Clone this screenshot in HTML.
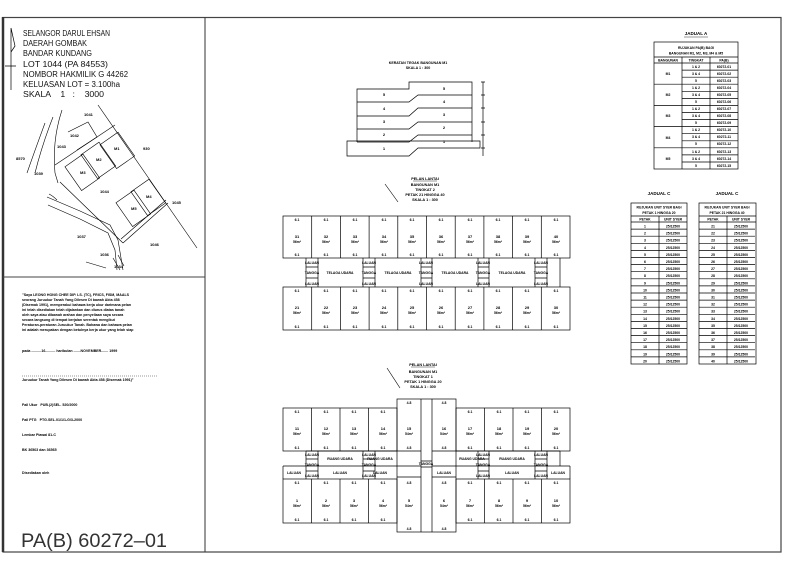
<!DOCTYPE html>
<html><head><meta charset="utf-8"><style>
html,body{margin:0;padding:0;background:#fff;}
svg{display:block;font-family:"Liberation Sans",sans-serif;}
.t{font-size:4px;font-weight:bold;fill:#000;text-anchor:middle}
.s{font-size:3.4px;fill:#000;text-anchor:middle;font-weight:bold}
.l{font-size:3.8px;fill:#000;font-weight:bold}
</style></head><body>
<svg width="800" height="565" viewBox="0 0 800 565" xmlns="http://www.w3.org/2000/svg">
<g fill="none" stroke="#000" stroke-width="0.7">
<rect x="3" y="17.5" width="778" height="534.5" stroke="#444" stroke-width="1.2"/>
<line x1="3" y1="17" x2="3" y2="552" stroke="#333" stroke-width="2.5"/>
<line x1="205" y1="17.5" x2="205" y2="552" stroke="#333" stroke-width="1"/>
<line x1="3" y1="277" x2="205" y2="277" stroke="#444" stroke-width="1"/>
<path d="M11 28 L11 90 M11 28 L15 46 L11 52 M5 66 L16 66"/>
</g>
<g style="font-size:8px;fill:#111" lengthAdjust="spacingAndGlyphs">
<text x="23" y="36" textLength="87" lengthAdjust="spacingAndGlyphs">SELANGOR DARUL EHSAN</text>
<text x="23" y="46" textLength="64" lengthAdjust="spacingAndGlyphs">DAERAH GOMBAK</text>
<text x="23" y="56" textLength="69" lengthAdjust="spacingAndGlyphs">BANDAR KUNDANG</text>
<text x="23" y="67" textLength="85" lengthAdjust="spacingAndGlyphs">LOT 1044 (PA 84553)</text>
<text x="23" y="77" textLength="105" lengthAdjust="spacingAndGlyphs">NOMBOR HAKMILIK G 44262</text>
<text x="23" y="87" textLength="97" lengthAdjust="spacingAndGlyphs">KELUASAN LOT = 3.100ha</text>
<text x="23" y="97" textLength="81" lengthAdjust="spacingAndGlyphs">SKALA &#160;&#160; 1 &#160; : &#160;&#160; 3000</text>
</g>
<g fill="none" stroke="#000" stroke-width="0.6">
<line x1="98" y1="105" x2="197" y2="248"/>
<line x1="115" y1="125" x2="55" y2="165"/>
<path d="M68 132 L88 122 L97 137 L77 150"/>
<path d="M62 110 Q52 140 55 173 L58 183"/>
<line x1="60" y1="182" x2="123" y2="243"/>
<path d="M47 197 L80 211 L110 225 L118 240 L123 270"/>
<path d="M48 205 L80 219 L108 233 L115 250 L117 270"/>
<path d="M53 117 Q42 145 35 173"/>
<path d="M45 123 Q35 150 27 173"/>
<path d="M123 243 L168 203 M121 239 L166 200"/>
<path d="M113 258 L120 270 M118 255 L124 266 M86 262 L106 268"/>
<path d="M49 194 Q53 196 57 200"/>
<g transform="rotate(-35 117 150)"><rect x="106" y="136" width="22" height="29"/></g>
<g transform="rotate(-35 98 160)"><rect x="87" y="146" width="22" height="29"/></g>
<g transform="rotate(-35 82 172)"><rect x="71" y="158" width="22" height="29"/></g>
<g transform="rotate(-35 148 197)"><rect x="137" y="183" width="22" height="29"/></g>
<g transform="rotate(-35 133 208)"><rect x="122" y="194" width="22" height="29"/></g>
</g>
<g class="l" style="font-size:4px">
<text x="84" y="116">1041</text><text x="70" y="137">1042</text><text x="57" y="148">1043</text>
<text x="114" y="150">M1</text><text x="96" y="161">M2</text><text x="80" y="174">M3</text>
<text x="146" y="198">M4</text><text x="131" y="210">M5</text>
<text x="143" y="150">930</text><text x="16" y="160">8570</text><text x="34" y="175">1039</text>
<text x="100" y="193">1044</text><text x="172" y="204">1045</text><text x="150" y="246">1046</text>
<text x="77" y="238">1037</text><text x="100" y="256">1036</text><text x="114" y="268">1034</text>
</g>
<g class="l" style="font-size:3.6px">
<text x="22" y="296">"Saya LEONG HONG CHEE DIP. LS. (TC), FRICS, FISM, MAALS</text>
<text x="22" y="301">seorang Juruukur Tanah Yang Dilesen Di bawah Akta 458</text>
<text x="22" y="306">(Disemak 1991), memperakui bahawa kerja ukur darimana pelan</text>
<text x="22" y="311">ini telah disediakan telah dijalankan dan diurus diatas tanah</text>
<text x="22" y="316">oleh saya atau dibawah arahan dan penyeliaan saya secara</text>
<text x="22" y="321">secara langsung di tempat berjalan serentak mengikut</text>
<text x="22" y="326">Peraturan-peraturan Juruukur Tanah. Bahawa dan bahawa pelan</text>
<text x="22" y="331">ini adalah merupakan dengan betulnya kerja ukur yang telah siap</text>
<text x="22" y="352">pada ..........16.......... haribulan .......NOVEMBER....... 1999</text>
<text x="22" y="381">Juruukur Tanah Yang Dilesen Di bawah Akta 458 (Disemak 1991)"</text>
<text x="22" y="406">Fail Ukur &#160; PUB.(2)SEL. 520/2000</text>
<text x="22" y="421">Fail PTG &#160; PTG.SEL.01/1/1-G/3-2000</text>
<text x="22" y="436">Lembar Piawai 81-C</text>
<text x="22" y="451">BK 36563 dan 36565</text>
<text x="22" y="474">Disediakan oleh</text>
</g>
<line x1="22" y1="376" x2="158" y2="376" stroke="#000" stroke-width="0.4" stroke-dasharray="1 1"/>
<text x="21" y="547" textLength="146" lengthAdjust="spacingAndGlyphs" style="font-size:19px;fill:#333">PA(B) 60272–01</text>

<g class="t" style="font-size:3.6px"><text x="418" y="64">KERATAN TEGAK BANGUNAN M1</text><text x="418" y="69">SKALA 1 : 300</text></g>
<g fill="none" stroke="#000" stroke-width="0.7">
<path d="M357 142 L357 89 L409 89 L409 82 L472 82 L472 142"/>
<path d="M347 141 L480 141 L480 148 L418 148 L409 156 L347 156 Z"/>
<path d="M357 102 L409 102 L418 95 L472 95 M357 116 L409 116 L418 108 L472 108 M357 129 L409 129 L418 122 L472 122 M357 142 L409 142 L418 135 L472 135"/>
<path d="M483 82 L483 156 M481 82 L485 82 M481 95 L485 95 M481 108 L485 108 M481 122 L485 122 M481 135 L485 135 M481 148 L485 148"/>
</g>
<g class="t"><text x="384" y="96">5</text><text x="384" y="110">4</text><text x="384" y="123">3</text><text x="384" y="136">2</text><text x="384" y="150">1</text>
<text x="444" y="90">5</text><text x="444" y="103">4</text><text x="444" y="116">3</text><text x="444" y="129">2</text><text x="444" y="143">1</text></g>

<line x1="385" y1="184" x2="398" y2="202" stroke="#000" stroke-width="0.6"/>
<g class="t" style="font-size:3.8px"><text x="425" y="180">PELAN LANTAI</text><text x="425" y="186">BANGUNAN M1</text><text x="425" y="191">TINGKAT 2</text><text x="425" y="196">PETAK 21 HINGGA 40</text><text x="425" y="201">SKALA 1 : 300</text></g>
<line x1="413" y1="181" x2="437" y2="181" stroke="#000" stroke-width="0.4"/>
<g fill="none" stroke="#000" stroke-width="0.7">
<rect x="283" y="216" width="287" height="42"/>
<rect x="283" y="287" width="287" height="43"/>
<path d="M311.7 216v42M340.4 216v42M369.1 216v42M397.8 216v42M426.5 216v42M455.2 216v42M483.9 216v42M512.6 216v42M541.3 216v42"/>
<path d="M311.7 287v43M340.4 287v43M369.1 287v43M397.8 287v43M426.5 287v43M455.2 287v43M483.9 287v43M512.6 287v43M541.3 287v43"/>
<path d="M306 258v29M318 258v29M363 258v29M375 258v29M421 258v29M432 258v29M478 258v29M489 258v29M535 258v29M547 258v29M560 258v29"/>
<path d="M306 267h12M306 278h12M363 267h12M363 278h12M421 267h11M421 278h11M478 267h11M478 278h11M535 267h12M535 278h12"/>
</g>
<g class="t">
<text x="297" y="238">31</text><text x="326" y="238">32</text><text x="355" y="238">33</text><text x="384" y="238">34</text><text x="412" y="238">35</text><text x="441" y="238">36</text><text x="470" y="238">37</text><text x="498" y="238">38</text><text x="527" y="238">39</text><text x="556" y="238">40</text>
<text x="297" y="309">21</text><text x="326" y="309">22</text><text x="355" y="309">23</text><text x="384" y="309">24</text><text x="412" y="309">25</text><text x="441" y="309">26</text><text x="470" y="309">27</text><text x="498" y="309">28</text><text x="527" y="309">29</text><text x="556" y="309">30</text>
</g>
<g class="s">
<text x="297" y="243">56m²</text><text x="326" y="243">56m²</text><text x="355" y="243">56m²</text><text x="384" y="243">56m²</text><text x="412" y="243">56m²</text><text x="441" y="243">56m²</text><text x="470" y="243">56m²</text><text x="498" y="243">56m²</text><text x="527" y="243">56m²</text><text x="556" y="243">56m²</text>
<text x="297" y="314">56m²</text><text x="326" y="314">56m²</text><text x="355" y="314">56m²</text><text x="384" y="314">56m²</text><text x="412" y="314">56m²</text><text x="441" y="314">56m²</text><text x="470" y="314">56m²</text><text x="498" y="314">56m²</text><text x="527" y="314">56m²</text><text x="556" y="314">56m²</text>
<text x="297" y="221">6.1</text><text x="326" y="221">6.1</text><text x="355" y="221">6.1</text><text x="384" y="221">6.1</text><text x="412" y="221">6.1</text><text x="441" y="221">6.1</text><text x="470" y="221">6.1</text><text x="498" y="221">6.1</text><text x="527" y="221">6.1</text><text x="556" y="221">6.1</text>
<text x="297" y="256">6.1</text><text x="326" y="256">6.1</text><text x="355" y="256">6.1</text><text x="384" y="256">6.1</text><text x="412" y="256">6.1</text><text x="441" y="256">6.1</text><text x="470" y="256">6.1</text><text x="498" y="256">6.1</text><text x="527" y="256">6.1</text><text x="556" y="256">6.1</text>
<text x="297" y="292">6.1</text><text x="326" y="292">6.1</text><text x="355" y="292">6.1</text><text x="384" y="292">6.1</text><text x="412" y="292">6.1</text><text x="441" y="292">6.1</text><text x="470" y="292">6.1</text><text x="498" y="292">6.1</text><text x="527" y="292">6.1</text><text x="556" y="292">6.1</text>
<text x="297" y="328">6.1</text><text x="326" y="328">6.1</text><text x="355" y="328">6.1</text><text x="384" y="328">6.1</text><text x="412" y="328">6.1</text><text x="441" y="328">6.1</text><text x="470" y="328">6.1</text><text x="498" y="328">6.1</text><text x="527" y="328">6.1</text><text x="556" y="328">6.1</text>
<text x="340" y="274">TELAGA UDARA</text><text x="398" y="274">TELAGA UDARA</text><text x="455" y="274">TELAGA UDARA</text><text x="512" y="274">TELAGA UDARA</text>
<text x="312" y="264">LALUAN</text><text x="312" y="274">TANGGA</text><text x="312" y="285">LALUAN</text>
<text x="369" y="264">LALUAN</text><text x="369" y="274">TANGGA</text><text x="369" y="285">LALUAN</text>
<text x="426" y="264">LALUAN</text><text x="426" y="274">TANGGA</text><text x="426" y="285">LALUAN</text>
<text x="483" y="264">LALUAN</text><text x="483" y="274">TANGGA</text><text x="483" y="285">LALUAN</text>
<text x="541" y="264">LALUAN</text><text x="541" y="274">TANGGA</text><text x="541" y="285">LALUAN</text>
</g>

<line x1="387" y1="368" x2="400" y2="388" stroke="#000" stroke-width="0.6"/>
<g class="t" style="font-size:3.8px"><text x="423" y="366">PELAN LANTAI</text><text x="423" y="373">BANGUNAN M1</text><text x="423" y="378">TINGKAT 1</text><text x="423" y="383">PETAK 1 HINGGA 20</text><text x="423" y="388">SKALA 1 : 300</text></g>
<line x1="411" y1="367" x2="435" y2="367" stroke="#000" stroke-width="0.4"/>
<g fill="none" stroke="#000" stroke-width="0.7">
<rect x="397" y="399" width="59" height="133"/>
<rect x="283" y="408" width="114" height="43"/>
<rect x="456" y="408" width="114" height="43"/>
<rect x="283" y="479" width="114" height="44"/>
<rect x="456" y="479" width="114" height="44"/>
<path d="M311.5 408v43M340 408v43M368.5 408v43M484.5 408v43M513 408v43M541.5 408v43"/>
<path d="M311.5 479v44M340 479v44M368.5 479v44M484.5 479v44M513 479v44M541.5 479v44"/>
<path d="M421 399v133M432 399v133M397 451h24M432 451h24M397 466h24M432 466h24M397 477h24M432 477h24M421 461h11M421 467h11"/>
<path d="M306 451v28M318 451v28M363 451v28M375 451v28M478 451v28M489 451v28M535 451v28M547 451v28M560 451v15"/>
<path d="M306 451h91M456 451h104M283 466h114M456 466h114M283 466v13M570 466v13"/>
<path d="M306 459h12M306 471h12M363 459h12M363 471h12M478 459h11M478 471h11M535 459h12M535 471h12"/>
</g>
<g class="t">
<text x="297" y="430">11</text><text x="326" y="430">12</text><text x="354" y="430">13</text><text x="383" y="430">14</text><text x="409" y="430">15</text><text x="444" y="430">16</text><text x="470" y="430">17</text><text x="499" y="430">18</text><text x="527" y="430">19</text><text x="556" y="430">20</text>
<text x="297" y="502">1</text><text x="326" y="502">2</text><text x="354" y="502">3</text><text x="383" y="502">4</text><text x="409" y="502">5</text><text x="444" y="502">6</text><text x="470" y="502">7</text><text x="499" y="502">8</text><text x="527" y="502">9</text><text x="556" y="502">10</text>
</g>
<g class="s">
<text x="297" y="435">56m²</text><text x="326" y="435">56m²</text><text x="354" y="435">56m²</text><text x="383" y="435">56m²</text><text x="409" y="435">54m²</text><text x="444" y="435">54m²</text><text x="470" y="435">56m²</text><text x="499" y="435">56m²</text><text x="527" y="435">56m²</text><text x="556" y="435">56m²</text>
<text x="297" y="507">56m²</text><text x="326" y="507">56m²</text><text x="354" y="507">56m²</text><text x="383" y="507">56m²</text><text x="409" y="507">54m²</text><text x="444" y="507">54m²</text><text x="470" y="507">56m²</text><text x="499" y="507">56m²</text><text x="527" y="507">56m²</text><text x="556" y="507">56m²</text>
<text x="297" y="413">6.1</text><text x="326" y="413">6.1</text><text x="354" y="413">6.1</text><text x="383" y="413">6.1</text><text x="409" y="404">4.8</text><text x="444" y="404">4.8</text><text x="470" y="413">6.1</text><text x="499" y="413">6.1</text><text x="527" y="413">6.1</text><text x="556" y="413">6.1</text>
<text x="297" y="449">6.1</text><text x="326" y="449">6.1</text><text x="354" y="449">6.1</text><text x="383" y="449">6.1</text><text x="409" y="449">4.8</text><text x="444" y="449">4.8</text><text x="470" y="449">6.1</text><text x="499" y="449">6.1</text><text x="527" y="449">6.1</text><text x="556" y="449">6.1</text>
<text x="297" y="484">6.1</text><text x="326" y="484">6.1</text><text x="354" y="484">6.1</text><text x="383" y="484">6.1</text><text x="409" y="484">4.8</text><text x="444" y="484">4.8</text><text x="470" y="484">6.1</text><text x="499" y="484">6.1</text><text x="527" y="484">6.1</text><text x="556" y="484">6.1</text>
<text x="297" y="521">6.1</text><text x="326" y="521">6.1</text><text x="354" y="521">6.1</text><text x="383" y="521">6.1</text><text x="409" y="530">4.8</text><text x="444" y="530">4.8</text><text x="470" y="521">6.1</text><text x="499" y="521">6.1</text><text x="527" y="521">6.1</text><text x="556" y="521">6.1</text>
<text x="340" y="460">RUANG UDARA</text><text x="380" y="460">RUANG UDARA</text><text x="472" y="460">RUANG UDARA</text><text x="512" y="460">RUANG UDARA</text>
<text x="294" y="474">LALUAN</text><text x="340" y="474">LALUAN</text><text x="380" y="474">LALUAN</text><text x="444" y="474">LALUAN</text><text x="512" y="474">LALUAN</text><text x="558" y="474">LALUAN</text>
<text x="426" y="465">TANGGA</text>
<text x="312" y="456">LALUAN</text><text x="312" y="466">TANGGA</text><text x="312" y="477">LALUAN</text>
<text x="369" y="456">LALUAN</text><text x="369" y="466">TANGGA</text><text x="369" y="477">LALUAN</text>
<text x="483" y="456">LALUAN</text><text x="483" y="466">TANGGA</text><text x="483" y="477">LALUAN</text>
<text x="541" y="456">LALUAN</text><text x="541" y="466">TANGGA</text><text x="541" y="477">LALUAN</text>
</g>

<text x="696" y="35" class="t" style="font-size:4.5px">JADUAL A</text>
<line x1="684" y1="37" x2="708" y2="37" stroke="#000" stroke-width="0.4"/>
<g fill="none" stroke="#000" stroke-width="0.7">
<rect x="654" y="42" width="84" height="127"/>
<path d="M654 57h84M654 63h84M682 57v112M710 57v112"/>
<path d="M654 84.2h84M654 105.4h84M654 126.6h84M654 147.8h84"/>
<path d="M682 70.1h56M682 77.2h56M682 91.3h56M682 98.4h56M682 112.5h56M682 119.6h56M682 133.7h56M682 140.8h56M682 154.9h56M682 162h56"/>
</g>
<g class="s">
<text x="696" y="49">RUJUKAN PA(B) BAGI</text><text x="696" y="54.5">BANGUNAN M1, M2, M3, M4 &amp; M5</text>
<text x="668" y="61.5">BANGUNAN</text><text x="696" y="61.5">TINGKAT</text><text x="724" y="61.5">PA(B)</text>
<text x="668" y="75">M1</text><text x="668" y="96">M2</text><text x="668" y="117">M3</text><text x="668" y="139">M4</text><text x="668" y="160">M5</text>
<text x="696" y="68">1 &amp; 2</text><text x="696" y="75">3 &amp; 4</text><text x="696" y="82">5</text>
<text x="696" y="89">1 &amp; 2</text><text x="696" y="96">3 &amp; 4</text><text x="696" y="103">5</text>
<text x="696" y="110">1 &amp; 2</text><text x="696" y="117">3 &amp; 4</text><text x="696" y="124">5</text>
<text x="696" y="131">1 &amp; 2</text><text x="696" y="138">3 &amp; 4</text><text x="696" y="145">5</text>
<text x="696" y="153">1 &amp; 2</text><text x="696" y="160">3 &amp; 4</text><text x="696" y="167">5</text>
<text x="724" y="68">60272-01</text><text x="724" y="75">60272-02</text><text x="724" y="82">60272-03</text>
<text x="724" y="89">60272-04</text><text x="724" y="96">60272-05</text><text x="724" y="103">60272-06</text>
<text x="724" y="110">60272-07</text><text x="724" y="117">60272-08</text><text x="724" y="124">60272-09</text>
<text x="724" y="131">60272-10</text><text x="724" y="138">60272-11</text><text x="724" y="145">60272-12</text>
<text x="724" y="153">60272-13</text><text x="724" y="160">60272-14</text><text x="724" y="167">60272-15</text>
</g>

<text x="659" y="195" class="t" style="font-size:4.5px">JADUAL C</text>
<text x="727" y="195" class="t" style="font-size:4.5px">JADUAL C</text>
<g fill="none" stroke="#000" stroke-width="0.7">
<rect x="631" y="203" width="56" height="161"/>
<rect x="699" y="203" width="57" height="161"/>
<path d="M631 216h56M631 222h56M659 216v148M699 216h57M699 222h57M727 216v148"/>
<path id="rows" d="M631 229.1h56M631 236.2h56M631 243.3h56M631 250.4h56M631 257.5h56M631 264.6h56M631 271.7h56M631 278.8h56M631 285.9h56M631 293h56M631 300.1h56M631 307.2h56M631 314.3h56M631 321.4h56M631 328.5h56M631 335.6h56M631 342.7h56M631 349.8h56M631 356.9h56"/>
<use href="#rows" x="68"/>
</g>
<g class="s">
<text x="659" y="208.5">RUJUKAN UNIT SYER BAGI</text><text x="659" y="214">PETAK 1 HINGGA 20</text>
<text x="645" y="220.5">PETAK</text><text x="673" y="220.5">UNIT SYER</text>
<text x="727" y="208.5">RUJUKAN UNIT SYER BAGI</text><text x="727" y="214">PETAK 21 HINGGA 40</text>
<text x="713" y="220.5">PETAK</text><text x="741" y="220.5">UNIT SYER</text>
<text x="645" y="227.5">1</text><text x="645" y="234.6">2</text><text x="645" y="241.7">3</text><text x="645" y="248.8">4</text><text x="645" y="255.9">5</text><text x="645" y="263">6</text><text x="645" y="270.1">7</text><text x="645" y="277.2">8</text><text x="645" y="284.3">9</text><text x="645" y="291.4">10</text><text x="645" y="298.5">11</text><text x="645" y="305.6">12</text><text x="645" y="312.7">13</text><text x="645" y="319.8">14</text><text x="645" y="326.9">15</text><text x="645" y="334">16</text><text x="645" y="341.1">17</text><text x="645" y="348.2">18</text><text x="645" y="355.3">19</text><text x="645" y="362.4">20</text>
<text x="713" y="227.5">21</text><text x="713" y="234.6">22</text><text x="713" y="241.7">23</text><text x="713" y="248.8">24</text><text x="713" y="255.9">25</text><text x="713" y="263">26</text><text x="713" y="270.1">27</text><text x="713" y="277.2">28</text><text x="713" y="284.3">29</text><text x="713" y="291.4">30</text><text x="713" y="298.5">31</text><text x="713" y="305.6">32</text><text x="713" y="312.7">33</text><text x="713" y="319.8">34</text><text x="713" y="326.9">35</text><text x="713" y="334">36</text><text x="713" y="341.1">37</text><text x="713" y="348.2">38</text><text x="713" y="355.3">39</text><text x="713" y="362.4">40</text>
<text x="673" y="227.5">25/12500</text><text x="673" y="234.6">25/12500</text><text x="673" y="241.7">25/12500</text><text x="673" y="248.8">25/12500</text><text x="673" y="255.9">25/12500</text><text x="673" y="263">25/12500</text><text x="673" y="270.1">25/12500</text><text x="673" y="277.2">25/12500</text><text x="673" y="284.3">25/12500</text><text x="673" y="291.4">25/12500</text><text x="673" y="298.5">25/12500</text><text x="673" y="305.6">25/12500</text><text x="673" y="312.7">25/12500</text><text x="673" y="319.8">25/12500</text><text x="673" y="326.9">25/12500</text><text x="673" y="334">25/12500</text><text x="673" y="341.1">25/12500</text><text x="673" y="348.2">25/12500</text><text x="673" y="355.3">25/12500</text><text x="673" y="362.4">25/12500</text>
<text x="741" y="227.5">25/12500</text><text x="741" y="234.6">25/12500</text><text x="741" y="241.7">25/12500</text><text x="741" y="248.8">25/12500</text><text x="741" y="255.9">25/12500</text><text x="741" y="263">25/12500</text><text x="741" y="270.1">25/12500</text><text x="741" y="277.2">25/12500</text><text x="741" y="284.3">25/12500</text><text x="741" y="291.4">25/12500</text><text x="741" y="298.5">25/12500</text><text x="741" y="305.6">25/12500</text><text x="741" y="312.7">25/12500</text><text x="741" y="319.8">25/12500</text><text x="741" y="326.9">25/12500</text><text x="741" y="334">25/12500</text><text x="741" y="341.1">25/12500</text><text x="741" y="348.2">25/12500</text><text x="741" y="355.3">25/12500</text><text x="741" y="362.4">25/12500</text>
</g>
</svg>
</body></html>
